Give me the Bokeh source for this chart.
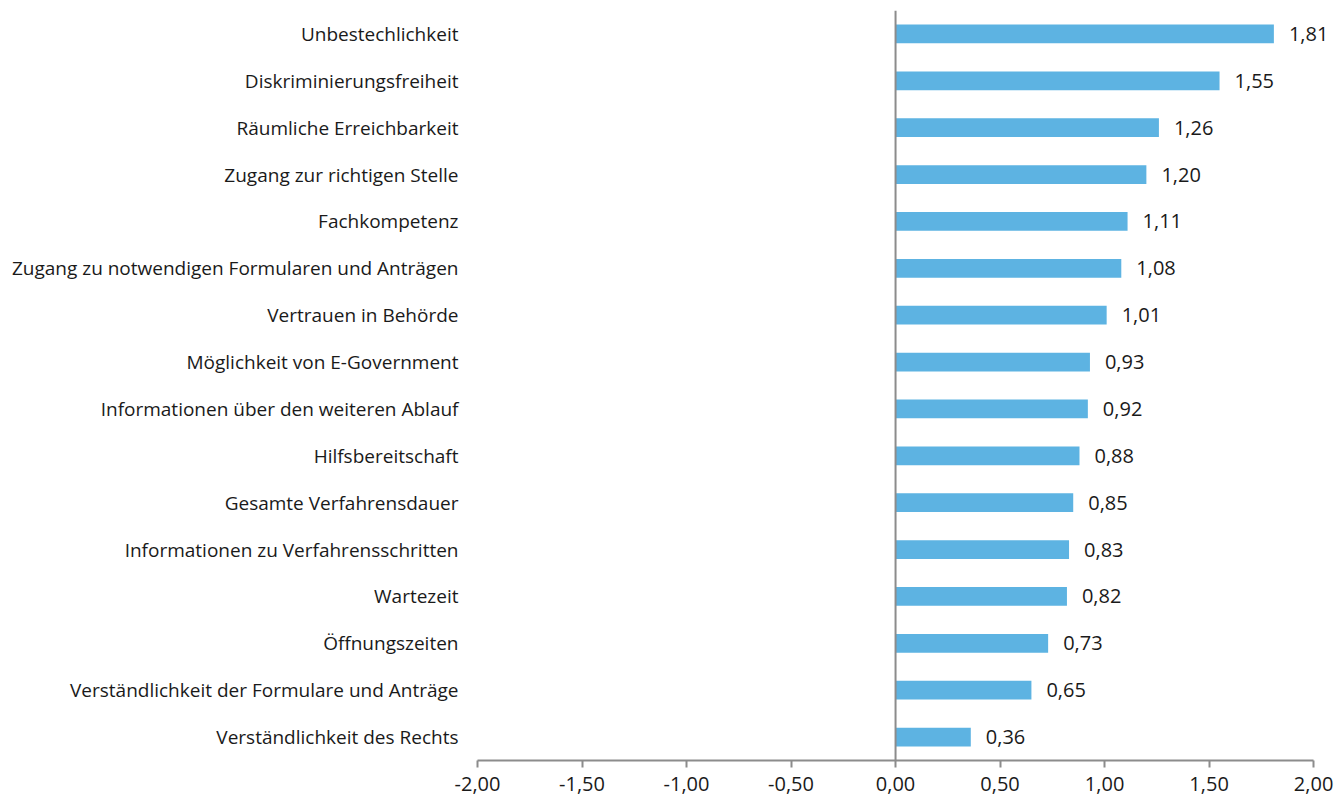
from bokeh.plotting import figure
from bokeh.models import ColumnDataSource, FactorRange, Range1d, FixedTicker, CustomJSTickFormatter, Span, LabelSet
from bokeh.core.properties import value
from bokeh.embed import file_html
from bokeh.resources import INLINE

categories = [
    "Unbestechlichkeit",
    "Diskriminierungsfreiheit",
    "Räumliche Erreichbarkeit",
    "Zugang zur richtigen Stelle",
    "Fachkompetenz",
    "Zugang zu notwendigen Formularen und Anträgen",
    "Vertrauen in Behörde",
    "Möglichkeit von E-Government",
    "Informationen über den weiteren Ablauf",
    "Hilfsbereitschaft",
    "Gesamte Verfahrensdauer",
    "Informationen zu Verfahrensschritten",
    "Wartezeit",
    "Öffnungszeiten",
    "Verständlichkeit der Formulare und Anträge",
    "Verständlichkeit des Rechts",
]
values = [1.81, 1.55, 1.26, 1.20, 1.11, 1.08, 1.01, 0.93, 0.92, 0.88, 0.85, 0.83, 0.82, 0.73, 0.65, 0.36]
x_ticks = [-2.0, -1.5, -1.0, -0.5, 0.0, 0.5, 1.0, 1.5, 2.0]

FONT = "Open Sans"
TEXT = "#1a1a1a"
AXIS = "#8c8c8c"

labels = [f"{v:.2f}".replace(".", ",") for v in values]
src = ColumnDataSource(dict(cat=categories, val=values, lab=labels))

p = figure(
    y_range=FactorRange(factors=list(reversed(categories))),
    x_range=Range1d(-2, 2.1),
    width=1336, height=796,
    frame_width=857, frame_height=750,
    min_border_left=477, min_border_top=10, min_border_right=2, min_border_bottom=36,
    output_backend="svg", toolbar_location=None,
)
p.hbar(y="cat", right="val", left=0, height=0.4, source=src,
       fill_color="#5DB3E2", line_color=None)

p.add_layout(LabelSet(x="val", y="cat", text="lab", source=src, x_offset=15,
                      text_align="left", text_baseline="middle",
                      text_font=value(FONT), text_font_size="20px", text_color=TEXT))

p.add_layout(Span(location=0, dimension="height", line_color=AXIS, line_width=2))

p.grid.visible = False
p.outline_line_color = None

p.xaxis.bounds = (-2, 2)
p.xaxis.ticker = FixedTicker(ticks=x_ticks)
p.xaxis.formatter = CustomJSTickFormatter(code="return tick.toFixed(2).replace('.', ',');")
p.xaxis.axis_line_color = AXIS
p.xaxis.axis_line_width = 2
p.xaxis.major_tick_line_color = AXIS
p.xaxis.major_tick_line_width = 2
p.xaxis.major_tick_out = 7
p.xaxis.major_tick_in = 0
p.xaxis.minor_tick_line_color = None
p.xaxis.major_label_text_font = FONT
p.xaxis.major_label_text_font_size = "20px"
p.xaxis.major_label_text_color = TEXT
p.xaxis.major_label_standoff = 9

p.yaxis.axis_line_color = None
p.yaxis.major_tick_line_color = None
p.yaxis.minor_tick_line_color = None
p.yaxis.major_label_text_font = FONT
p.yaxis.major_label_text_font_size = "19px"
p.yaxis.major_label_text_color = TEXT
p.yaxis.major_label_standoff = 13

open("out.html", "w").write(file_html(p, INLINE))
